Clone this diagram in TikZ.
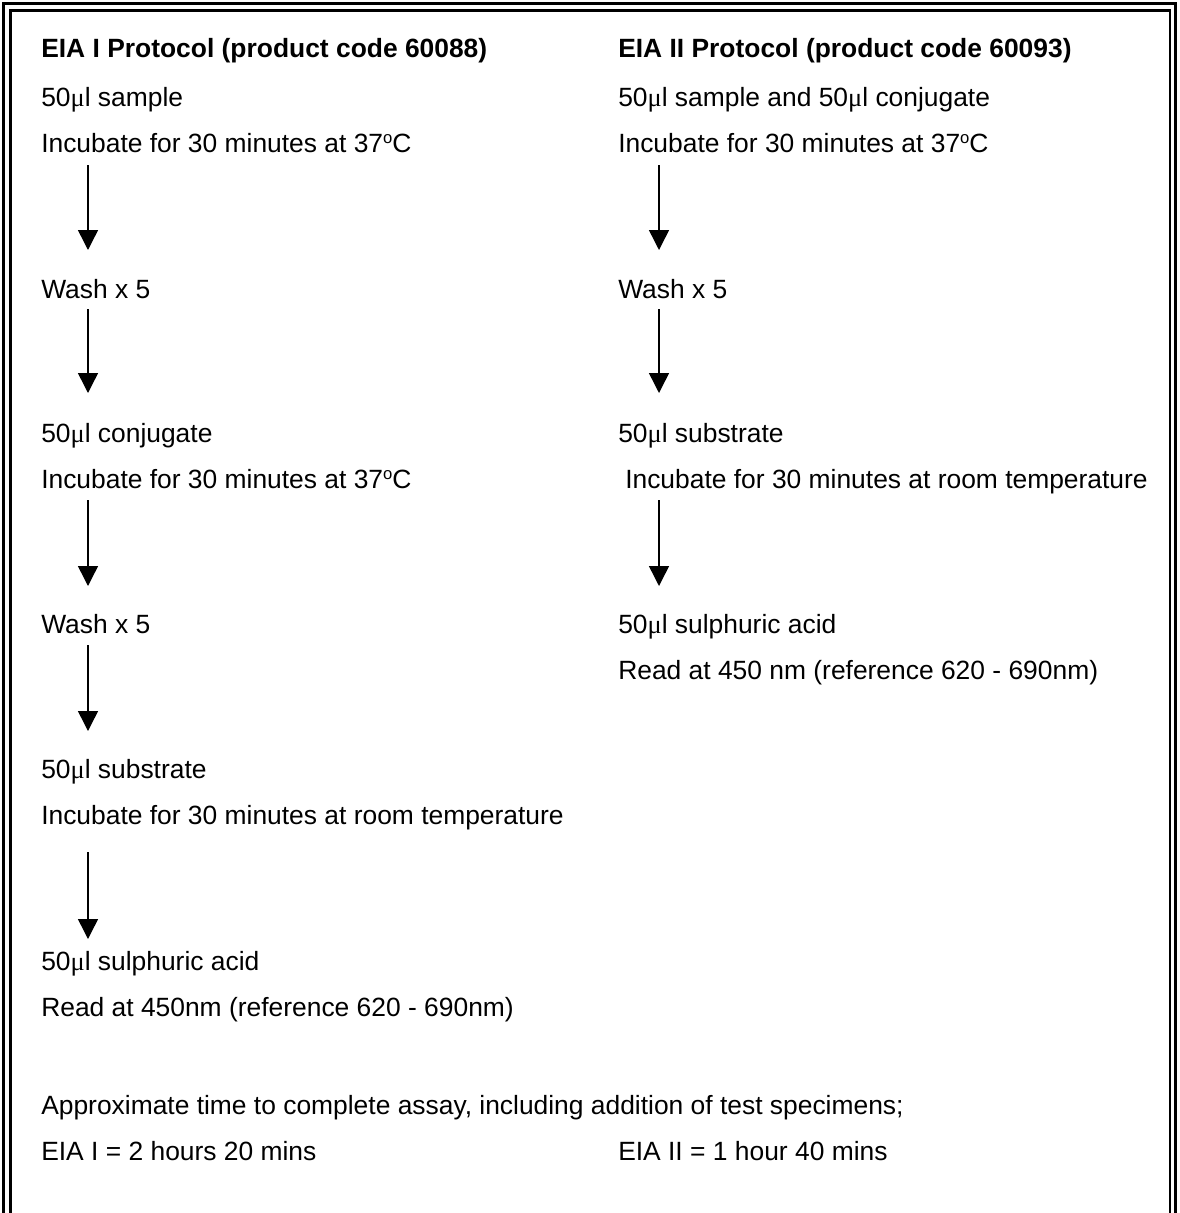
\documentclass[tikz,border=0pt]{standalone}
\usepackage{fontspec}
\setmainfont{Liberation Sans}
\newfontfamily\mufont{Liberation Serif}
\usetikzlibrary{arrows.meta}
\newcommand\muL{{\mufont μ}l}
\newcommand\degO{\raisebox{0.62ex}{\fontsize{12.5pt}{12.5pt}\selectfont o}}
\tikzset{
  txt/.style={anchor=base west, inner sep=0pt, font=\fontsize{19.8pt}{22pt}\selectfont},
  hdr/.style={txt, font=\fontsize{19.8pt}{22pt}\selectfont\bfseries},
  frameline/.style={line width=2.1pt, black},
  flow/.style={line width=1.1pt, -{Triangle[length=15pt,width=15pt]}}
}
\begin{document}
\begin{tikzpicture}[x=0.75pt,y=-0.75pt]
\useasboundingbox (0,0) rectangle (1180,1213);
% frame
\draw[frameline] (3.5,1213) -- (3.5,3.5) -- (1175.5,3.5) -- (1175.5,1213);
\draw[frameline] (10.5,1213) -- (10.5,10.5) -- (1170,10.5) -- (1170,1213);
% left column
\node[hdr] (lh) at (41,58) {EIA I Protocol (product code 60088)};
\node[txt] (l1) at (41,106) {50\muL{} sample};
\node[txt] (l2) at (41,152) {Incubate for 30 minutes at 37\degO C};
\node[txt] (l3) at (41,298) {Wash x 5};
\node[txt] (l4) at (41,442) {50\muL{} conjugate};
\node[txt] (l5) at (41,488) {Incubate for 30 minutes at 37\degO C};
\node[txt] (l6) at (41,633) {Wash x 5};
\node[txt] (l7) at (41,778) {50\muL{} substrate};
\node[txt] (l8) at (41,824) {Incubate for 30 minutes at room temperature};
\node[txt] (l9) at (41,970) {50\muL{} sulphuric acid};
\node[txt] (l10) at (41,1016) {Read at 450nm (reference 620 - 690nm)};
\node[txt] (ap) at (41,1114) {Approximate time to complete assay, including addition of test specimens;};
\node[txt] (t1) at (41,1160) {EIA I = 2 hours 20 mins};
% right column
\node[hdr] (rh) at (618,58) {EIA II Protocol (product code 60093)};
\node[txt] (r1) at (618,106) {50\muL{} sample and 50\muL{} conjugate};
\node[txt] (r2) at (618,152) {Incubate for 30 minutes at 37\degO C};
\node[txt] (r3) at (618,298) {Wash x 5};
\node[txt] (r4) at (618,442) {50\muL{} substrate};
\node[txt] (r5) at (625,488) {Incubate for 30 minutes at room temperature};
\node[txt] (r6) at (618,633) {50\muL{} sulphuric acid};
\node[txt] (r7) at (618,679) {Read at 450 nm (reference 620 - 690nm)};
\node[txt] (t2) at (618,1160) {EIA II = 1 hour 40 mins};
% arrow end points
\coordinate (la1s) at (88,165); \coordinate (la1e) at (88,250);
\coordinate (la2s) at (88,309); \coordinate (la2e) at (88,393);
\coordinate (la3s) at (88,500); \coordinate (la3e) at (88,586);
\coordinate (la4s) at (88,645); \coordinate (la4e) at (88,731);
\coordinate (la5s) at (88,852); \coordinate (la5e) at (88,939);
\coordinate (ra1s) at (659,165); \coordinate (ra1e) at (659,250);
\coordinate (ra2s) at (659,309); \coordinate (ra2e) at (659,393);
\coordinate (ra3s) at (659,500); \coordinate (ra3e) at (659,586);
\draw[flow] (la1s) -- (la1e);
\draw[flow] (la2s) -- (la2e);
\draw[flow] (la3s) -- (la3e);
\draw[flow] (la4s) -- (la4e);
\draw[flow] (la5s) -- (la5e);
\draw[flow] (ra1s) -- (ra1e);
\draw[flow] (ra2s) -- (ra2e);
\draw[flow] (ra3s) -- (ra3e);
\end{tikzpicture}
\end{document}
